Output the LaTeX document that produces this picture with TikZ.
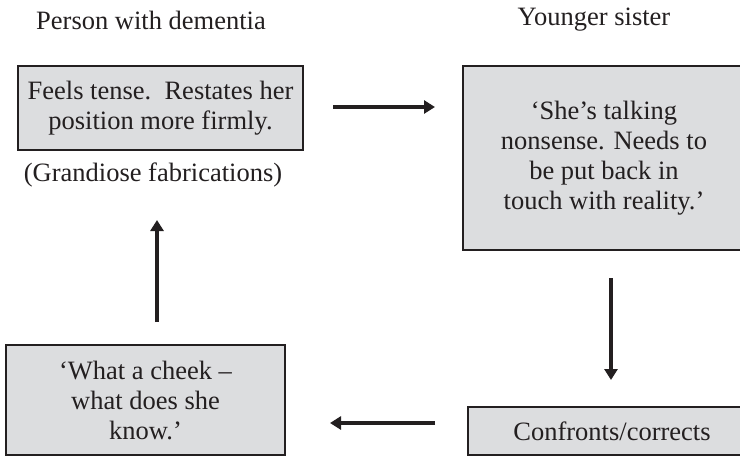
\documentclass[tikz,border=0pt]{standalone}
\usepackage{fontspec}
\setmainfont{Liberation Serif}
\usetikzlibrary{arrows.meta}
\definecolor{boxfill}{RGB}{220,221,223}
\definecolor{inkc}{RGB}{35,31,32}
\begin{document}
\begin{tikzpicture}[x=1pt,y=-1pt,
  txt/.style={font=\fontsize{26.5}{30}\selectfont, text=inkc, align=center, inner sep=0pt},
  box/.style={txt, draw=inkc, fill=boxfill, line width=2.8pt},
  arr/.style={line width=3.5pt, draw=inkc, -{Triangle[length=11pt,width=13pt]}}]
\useasboundingbox (0,0) rectangle (740,456);
% titles
\node[txt] (t1) at (151,20) {Person with dementia};
\node[txt] (t2) at (594,20) {Younger sister};
% boxes
\node[box, minimum width=285pt, minimum height=84pt] (tl) at (160.5,108)
  {Feels tense.\ \ Restates her\\position more firmly.};
\node[txt] (gf) at (153,175) {(Grandiose fabrications)};
\node[box, minimum width=279pt, minimum height=184pt] (tr) at (602.5,158)
  {\hspace*{3pt}`She's talking\\\hspace*{3pt}nonsense. Needs to\\\hspace*{3pt}be put back in\\\hspace*{3pt}touch with reality.'};
\node[box, minimum width=279pt, minimum height=110pt] (bl) at (145.5,400)
  {`What a cheek --\\what does she\\know.'};
\node[box, minimum width=277pt, minimum height=48pt] (br) at (606.5,431)
  {\hspace*{11pt}Confronts/corrects};
% arrow ends
\coordinate (a1s) at (333,107);
\coordinate (a1e) at (435,107);
\coordinate (a2s) at (611,278);
\coordinate (a2e) at (611,380);
\coordinate (a3s) at (435,423);
\coordinate (a3e) at (330,423);
\coordinate (a4s) at (157,322);
\coordinate (a4e) at (157,220);
\draw[arr] (a1s) -- (a1e);
\draw[arr] (a2s) -- (a2e);
\draw[arr] (a3s) -- (a3e);
\draw[arr] (a4s) -- (a4e);
\end{tikzpicture}
\end{document}
